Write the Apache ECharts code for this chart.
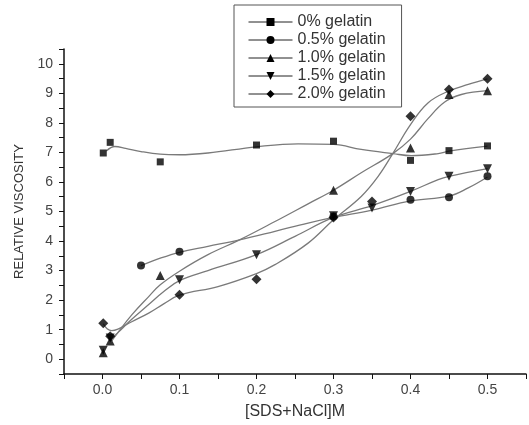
<!DOCTYPE html>
<html>
<head>
<meta charset="utf-8">
<script src="https://cdn.jsdelivr.net/npm/echarts@6/dist/echarts.min.js"></script>
<style>html,body{margin:0;padding:0;background:#fff;}#c{width:529px;height:425px;}</style>
</head>
<body>
<div id="c"></div>
<script>
// Legend names
const names = ['0% gelatin', '0.5% gelatin', '1.0% gelatin', '1.5% gelatin', '2.0% gelatin'];

// Measured points (x = [SDS+NaCl] M, y = relative viscosity)
const pts0  = [[0.001,6.98],[0.01,7.34],[0.075,6.68],[0.2,7.25],[0.3,7.38],[0.4,6.73],[0.45,7.06],[0.5,7.22]];
const pts05 = [[0.05,3.17],[0.1,3.64],[0.3,4.83],[0.4,5.4],[0.45,5.48],[0.5,6.19]];
const pts10 = [[0.001,0.22],[0.01,0.62],[0.075,2.83],[0.3,5.72],[0.4,7.15],[0.45,8.96],[0.5,9.09]];
const pts15 = [[0.001,0.3],[0.01,0.72],[0.1,2.69],[0.2,3.54],[0.3,4.86],[0.35,5.12],[0.4,5.68],[0.45,6.19],[0.5,6.45]];
const pts20 = [[0.001,1.22],[0.01,0.78],[0.1,2.18],[0.2,2.71],[0.3,4.8],[0.35,5.34],[0.4,8.22],[0.45,9.13],[0.5,9.49]];

// Fitted curves
const fit0  = [[0.005,7.05],[0.016,7.2],[0.03,7.14],[0.05,7.03],[0.075,6.94],[0.1,6.92],[0.137,6.98],[0.2,7.19],[0.254,7.29],[0.3,7.27],[0.336,7.1],[0.377,6.96],[0.401,6.89],[0.436,6.96],[0.45,7.04],[0.5,7.21]];
const fit05 = [[0.05,3.17],[0.075,3.42],[0.1,3.62],[0.137,3.82],[0.178,4.04],[0.224,4.33],[0.267,4.61],[0.3,4.8],[0.35,5.05],[0.4,5.36],[0.45,5.52],[0.475,5.8],[0.5,6.17]];
const fit10 = [[0.012,0.62],[0.02,0.9],[0.038,1.5],[0.06,2.12],[0.075,2.52],[0.1,2.98],[0.137,3.54],[0.178,4.04],[0.224,4.66],[0.267,5.26],[0.3,5.72],[0.336,6.31],[0.377,6.96],[0.4,7.45],[0.423,8.15],[0.444,8.7],[0.466,8.96],[0.5,9.09]];
const fit15 = [[0.012,0.7],[0.02,0.9],[0.038,1.35],[0.06,1.85],[0.08,2.3],[0.1,2.66],[0.137,3.0],[0.2,3.54],[0.25,4.16],[0.3,4.8],[0.35,5.2],[0.4,5.68],[0.436,6.08],[0.45,6.19],[0.5,6.45]];
const fit20 = [[0.001,1.2],[0.006,1.03],[0.012,0.97],[0.02,1.02],[0.038,1.27],[0.06,1.56],[0.08,1.88],[0.1,2.17],[0.15,2.46],[0.2,2.9],[0.224,3.2],[0.267,3.93],[0.3,4.72],[0.336,5.51],[0.358,6.19],[0.377,6.96],[0.4,7.94],[0.423,8.68],[0.449,9.07],[0.475,9.3],[0.5,9.49]];

// Axis ticks
const xTickLabels = ['0.0','0.1','0.2','0.3','0.4','0.5'];
const yTickLabels = ['0','1','2','3','4','5','6','7','8','9','10'];

const symbols = ['rect','circle','triangle','triangle','diamond'];
const rotations = [0,0,0,180,0];
const sizes = [7,8,9,9,10];
const pointSets = [pts0, pts05, pts10, pts15, pts20];
const fitSets = [fit0, fit05, fit10, fit15, fit20];

const FONT = 'Liberation Sans, Arial, sans-serif';
const series = [];
names.forEach((n, i) => {
  series.push({
    name: n, type: 'line', data: fitSets[i], smooth: 0.4, showSymbol: false,
    symbol: symbols[i], symbolRotate: rotations[i], symbolSize: sizes[i],
    lineStyle: {color: '#7a7a7a', width: 1.3},
    itemStyle: {color: '#000'},
    emphasis: {disabled: true}, z: 2
  });
});
names.forEach((n, i) => {
  series.push({
    name: n, type: 'scatter', data: pointSets[i],
    symbol: symbols[i], symbolRotate: rotations[i], symbolSize: sizes[i],
    itemStyle: {color: '#000'}, emphasis: {disabled: true}, z: 3
  });
});

const chart = echarts.init(document.getElementById('c'), null, {renderer: 'canvas'});
chart.setOption({
  animation: false,
  backgroundColor: '#fff',
  grid: {left: 64, right: 1, top: 49, bottom: 51, containLabel: false},
  legend: {
    data: names, orient: 'vertical', left: 234, top: 5,
    padding: [9, 16, 5, 14], itemGap: 2, itemWidth: 44, itemHeight: 10,
    borderColor: '#555', borderWidth: 1,
    textStyle: {fontFamily: FONT, fontSize: 16, color: '#333'},
    lineStyle: {color: '#222', width: 1},
    itemStyle: {color: '#000'}
  },
  xAxis: {
    type: 'value', min: -0.05, max: 0.55, interval: 0.05,
    name: '[SDS+NaCl]M', nameLocation: 'middle', nameGap: 30,
    nameTextStyle: {fontFamily: FONT, fontSize: 16, color: '#333'},
    axisLine: {onZero: false, lineStyle: {color: '#111', width: 1.5}},
    axisTick: {show: true, inside: false, length: 5, lineStyle: {color: '#111'}},
    splitLine: {show: false},
    axisLabel: {
      margin: 9, fontFamily: FONT, fontSize: 14, color: '#444',
      formatter: function (v) {
        const k = Math.round(v * 10);
        if (Math.abs(v * 10 - k) < 1e-6 && k >= 0 && k < xTickLabels.length) return xTickLabels[k];
        return '';
      }
    }
  },
  yAxis: {
    type: 'value', min: -0.5, max: 10.5, interval: 0.5,
    name: 'RELATIVE VISCOSITY', nameLocation: 'middle', nameGap: 38,
    nameTextStyle: {fontFamily: FONT, fontSize: 13, color: '#333'},
    axisLine: {show: true, onZero: false, lineStyle: {color: '#111', width: 1.5}},
    axisTick: {show: true, inside: false, length: 5, lineStyle: {color: '#111'}},
    splitLine: {show: false},
    axisLabel: {
      margin: 11, fontFamily: FONT, fontSize: 14, color: '#444',
      formatter: function (v) {
        const k = Math.round(v);
        if (Math.abs(v - k) < 1e-6 && k >= 0 && k < yTickLabels.length) return yTickLabels[k];
        return '';
      }
    }
  },
  series: series
});
</script>
</body>
</html>
